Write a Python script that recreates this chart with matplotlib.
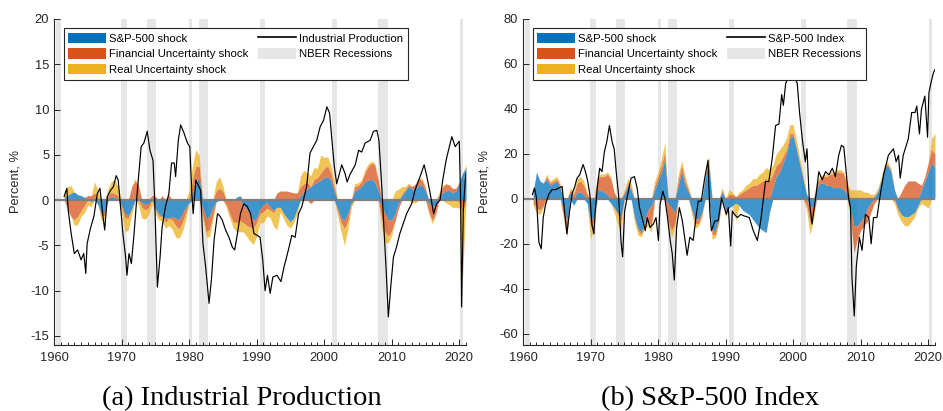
import numpy as np
import matplotlib
matplotlib.use("Agg")
import matplotlib.pyplot as plt
from matplotlib.patches import Patch
from matplotlib.lines import Line2D

plt.rcParams['font.family'] = ['Liberation Sans', 'DejaVu Sans']
plt.rcParams['axes.unicode_minus'] = False

# half-year grid of the shock contributions, 1961.5 .. 2021.0
t = np.arange(1961.5, 2021.01, 0.5)

# (a) Industrial Production: contributions (percent)
a_sp = [0.3, 0.5, 0.8, 0.9, 0.6, 0.5, 0.3, 0.2,
        -0.2, 0.3, -0.5, -1.5, -1.2, 0.2, 0.4, 0.3, 0.2, -0.5,
        -1.5, -1.7, -1.0, 0.3, 0.2, -0.3, -0.5, -0.3, 0.2, -1.0,
        -1.5, -1.8, -2.0, -2.0, -1.8, -2.0, -2.2, -1.5, -0.8, -0.3,
        0.8, 2.0, 2.4, -0.8, -2.0, -1.8, -0.8, -0.2, 0.0, 0.0,
        0.0, 0.0, -0.1, 0.3, 0.5, -0.5, -1.0, -1.5, -2.3, -2.0,
        -1.0, -0.5, -0.3, -0.8, -1.1, -0.8, -0.8, -1.5, -2.0, -2.4,
        -2.0, -1.0, 0.5, 1.0, 1.2, 1.5, 1.8, 2.0, 2.2, 2.5,
        2.6, 2.2, 0.8, -1.0, -2.0, -2.2, -1.5, -0.3, 1.0, 1.2,
        1.5, 2.0, 2.2, 2.3, 2.0, 1.0, -0.5, -1.5, -2.2, -2.2,
        -1.5, -0.3, 0.5, 1.0, 1.5, 1.2, 1.3, 1.6, 1.7, 1.0,
        -0.3, -0.8, -0.5, 0.3, 0.8, 1.0, 1.1, 0.8, 1.0, 2.0,
        3.0, 3.5]
a_fu = [0.2, -1.0, -1.8, -2.2, -1.8, -1.2, -0.6, 0.3,
        0.5, 0.5, 0.3, -0.3, -0.5, 0.3, 0.5, 0.4, 0.3, -0.3,
        -0.5, -0.3, 1.5, 1.8, 1.5, -0.5, -0.6, -0.5, 0.3, 0.4,
        -0.3, 0.5, -0.5, 0.6, -0.4, -0.8, -1.0, -1.0, -0.6, 0.3,
        1.5, 1.8, 1.3, -0.8, -1.5, -1.5, -1.0, 1.0, 1.3, 1.0,
        -0.5, -1.5, -2.3, -2.5, -2.3, -2.0, -1.8, -1.5, -0.8, -0.5,
        -0.5, -0.8, -0.6, -0.3, -0.3, 0.8, 1.0, 1.0, 1.0, 0.9,
        0.8, 0.8, 1.0, 0.8, 0.8, -0.4, 0.5, 0.5, 0.8, 1.0,
        1.2, 0.8, 0.5, -0.3, -0.5, -1.0, -0.8, -0.2, 0.5, 0.4,
        0.5, 1.0, 1.5, 1.8, 1.9, 1.2, -1.5, -2.0, -1.8, -1.2,
        -0.8, -0.6, 0.2, 0.2, 0.2, 0.3, 0.5, 0.7, 0.5, 0.3,
        -1.0, -1.5, -1.0, 0.3, 0.6, 0.8, 0.6, 0.5, 0.3, -0.3,
        -1.5, 0.2]
a_ru = [0.5, 1.0, 0.8, -0.6, -0.9, -0.6, -0.8, -0.6,
        -0.5, 1.2, 0.8, -0.5, -0.4, 0.8, 1.2, 1.5, 1.0, -0.6,
        -1.5, -1.3, -0.6, 0.3, -0.5, -1.2, -1.0, -0.8, -0.4, -0.5,
        -0.4, -0.5, -0.6, -0.8, -1.0, -1.3, -1.0, -1.0, -0.8, 0.8,
        1.5, 1.8, 1.2, -0.4, -0.5, -0.8, -0.5, 1.0, 1.3, 0.6,
        -0.3, -0.5, -0.6, -1.0, -1.2, -1.0, -1.2, -1.5, -1.8, -1.5,
        -1.0, -1.2, -0.9, -0.8, -1.5, -2.5, -0.5, -0.6, -0.8, -0.7,
        -0.5, -0.5, 1.2, 1.5, 1.0, 1.2, 1.3, 1.0, 2.0, 1.2,
        1.0, 0.8, 0.6, -0.5, -1.0, -1.8, -1.0, -0.3, 0.3, 0.3,
        0.2, 0.3, 0.3, 0.2, 0.2, 0.1, -1.0, -1.2, -0.7, -0.5,
        1.0, 1.2, 0.8, 0.3, 0.2, -0.3, -0.3, 0.2, 0.2, 0.2,
        -0.3, -0.3, -0.2, 0.2, 0.2, -0.3, -0.5, -0.8, -0.8, -0.6,
        -7.0, 0.2]

ip_year = [1961.5, 1961.9, 1962.1, 1962.5, 1963.0, 1963.5, 1964.0, 1964.4, 1964.7, 1964.9,
           1965.4, 1965.9, 1966.4, 1966.8, 1967.2, 1967.5, 1967.9, 1968.4, 1968.8, 1969.2,
           1969.5, 1969.9, 1970.2, 1970.6, 1970.8, 1971.1, 1971.45, 1971.85, 1972.3, 1972.9,
           1973.3, 1973.8, 1974.2, 1974.65, 1974.9, 1975.3, 1975.7, 1976.0, 1976.5, 1977.0,
           1977.4, 1977.8, 1978.0, 1978.4, 1978.75, 1979.25, 1979.75, 1980.1, 1980.4, 1980.6,
           1981.0, 1981.3, 1981.7, 1982.05, 1982.45, 1982.95, 1983.3, 1983.7, 1984.2, 1984.5,
           1984.9, 1985.4, 1985.9, 1986.4, 1986.75, 1987.15, 1987.6, 1988.1, 1988.6, 1989.1,
           1989.6, 1990.1, 1990.5, 1990.9, 1991.25, 1991.6, 1992.0, 1992.4, 1993.0, 1993.6,
           1994.05, 1994.7, 1995.2, 1995.7, 1996.2, 1996.7, 1997.4, 1997.9, 1998.4, 1998.9,
           1999.4, 1999.9, 2000.4, 2000.8, 2001.1, 2001.5, 2001.85, 2002.25, 2002.6, 2003.1,
           2003.4, 2003.8, 2004.6, 2005.1, 2005.55, 2006.05, 2006.8, 2007.3, 2007.8, 2008.1,
           2008.5, 2008.75, 2009.15, 2009.5, 2009.85, 2010.25, 2010.7, 2011.2, 2011.7, 2012.2,
           2012.95, 2013.45, 2014.2, 2014.8, 2015.2, 2015.7, 2016.2, 2016.65, 2017.15, 2017.55,
           2018.05, 2018.4, 2018.9, 2019.4, 2020.0, 2020.2, 2020.35, 2020.6, 2020.85, 2021.0]
ip_val = [0.4, 1.3, -1.1, -3.5, -5.9, -5.5, -6.6, -5.9, -8.1, -4.8,
          -3.1, -1.8, 0.7, 1.3, -1.5, -3.3, 0.4, 1.1, 1.5, 2.7,
          2.2, -1.1, -3.7, -6.3, -8.3, -5.9, -7.0, -3.7, 0.7, 5.9,
          6.3, 7.6, 5.5, 4.4, 0.0, -9.6, -6.3, -3.0, -0.7, 0.7,
          4.1, 4.1, 2.6, 6.6, 8.3, 7.4, 6.3, 5.9, 0.7, -1.5,
          2.2, 1.7, 1.1, -4.8, -7.4, -11.4, -8.8, -4.4, -1.5, -1.7,
          -2.2, -3.3, -4.1, -5.2, -5.5, -3.7, -1.5, -0.4, -0.7, -1.5,
          -3.7, -3.9, -4.1, -6.6, -10.0, -8.3, -10.3, -8.5, -8.3, -9.0,
          -7.4, -5.5, -3.9, -4.1, -1.5, -0.7, 1.5, 5.2, 5.9, 6.6,
          8.1, 8.8, 10.3, 9.6, 7.0, 3.7, 1.8, 2.9, 3.9, 2.9,
          2.0, 2.8, 3.9, 5.5, 5.3, 6.3, 6.6, 7.6, 7.7, 6.6,
          1.8, -1.8, -7.4, -12.9, -9.6, -6.3, -5.2, -3.7, -2.6, -1.5,
          -0.4, 1.1, 2.6, 3.9, 2.6, 0.7, -1.5, -0.4, 0.0, 2.2,
          4.4, 5.5, 7.0, 5.9, 6.5, 0.0, -11.8, -1.1, 1.8, 3.0]

# (b) S&P-500 Index: contributions (percent)
b_sp = [3, 12, 8, 7, 9, 6, 7, 8,
        5, -4, -10, 3, -3, 3, 3, 2, -2, -10,
        -8, 4, 4, 3, 2, -2, -4, -6, -8, 2,
        6, 4, -8, -13, -15, -10, -5, -3, 4, 8,
        12, 18, -2, -4, -6, 6, 12, 6, 3, -5,
        -9, -9, -6, 10, 16, -14, -14, -8, 3, -5,
        -4, -3, -2, -3, -5, -6, -7, -9, -11, -13,
        -14, -15, -6, 5, 10, 12, 16, 20, 27, 28,
        22, 15, 8, 2, -4, -3, 5, 7, 7, 6,
        6, 5, 5, 5, 4, 2, -4, -12, -12, -10,
        -8, -4, -2, 1, 3, 8, 14, 15, 12, 4,
        -4, -7, -8, -8, -7, -6, -3, 4, 8, 12,
        16, 14]
b_fu = [-2, -4, -5, -3, 1, 1, 1, 1,
        1, -4, -6, 1, 2, 4, 5, 4, 2, -3,
        -2, 5, 6, 7, 9, 9, 3, -1, -2, 1,
        1, 1, -1, -1, -1, -2, -5, -9, 2, 2,
        3, 3, -8, -10, -5, 3, 3, 2, 1, -1,
        -2, -2, -1, 1, 1, -2, -2, -2, 1, -2,
        2, 2, 1, 2, 3, 4, 5, 6, 6, 7,
        8, 9, 8, 6, 5, 4, 3, 2, 2, 1,
        1, 1, 1, -3, -7, -4, 2, 2, 3, 4,
        5, 6, 7, 7, 7, 4, -4, -12, -6, -4,
        -4, -6, -4, -2, 0.5, 0.5, 0.5, 0.5, 0.5, -1,
        -1, 3, 6, 8, 8, 8, 7, 2, 2, 4,
        6, 6]
b_ru = [-1, -2, -2, -1, 1, 1, 1, 1,
        1, -1, -1, 1, 1, 2, 2, 2, 1, -5,
        -3, 1, 1, 1, 1, 1, -2, -4, -4, 1,
        2, 2, -1, -2, -1, -1, -2, -3, 2, 2,
        3, 4, -2, -3, -2, 2, 2, 2, 1, -1,
        -2, -1, -1, 1, 2, -2, -1, -1, 1, -1,
        2, 1, -8, 1, 1, 2, 2, 3, 3, 4,
        4, 5, 5, 4, 5, 6, 5, 5, 4, 4,
        3, 2, 1, -2, -5, -2, 1, 1, 1, 1,
        1, 1, 1, 1, 1, 1, 4, 4, 4, 4,
        3, 3, 2, 1, 1, 1, 1, 1, 1, -1,
        -2, -3, -4, -4, -3, -2, -1, -2, -3, -4,
        5, 9]

sp_year = [1961.4, 1961.7, 1962.0, 1962.35, 1962.7, 1963.0, 1963.35, 1963.8, 1964.3, 1964.8,
           1965.3, 1965.8, 1966.05, 1966.5, 1966.9, 1967.3, 1967.6, 1968.0, 1968.4, 1968.9,
           1969.25, 1969.6, 1969.9, 1970.2, 1970.5, 1970.7, 1971.05, 1971.35, 1971.7, 1972.05,
           1972.4, 1972.8, 1973.2, 1973.5, 1973.8, 1974.15, 1974.5, 1974.75, 1975.05, 1975.5,
           1976.0, 1976.5, 1976.9, 1977.25, 1977.75, 1978.1, 1978.4, 1978.8, 1979.3, 1979.7,
           1980.05, 1980.3, 1980.7, 1981.0, 1981.4, 1981.8, 1982.1, 1982.4, 1982.75, 1983.15,
           1983.6, 1984.0, 1984.3, 1984.7, 1985.2, 1985.6, 1985.95, 1986.4, 1986.9, 1987.4,
           1987.65, 1987.9, 1988.4, 1988.9, 1989.4, 1989.9, 1990.1, 1990.4, 1990.75, 1991.0,
           1991.3, 1991.75, 1992.25, 1992.75, 1993.5, 1994.1, 1994.7, 1995.2, 1995.9, 1996.4,
           1996.9, 1997.4, 1997.9, 1998.3, 1998.55, 1998.9, 1999.3, 1999.6, 2000.1, 2000.6,
           2000.95, 2001.4, 2001.8, 2002.05, 2002.4, 2002.8, 2003.05, 2003.4, 2003.8, 2004.3,
           2004.8, 2005.3, 2005.8, 2006.25, 2006.75, 2007.15, 2007.5, 2007.85, 2008.2, 2008.5,
           2008.7, 2009.05, 2009.35, 2009.8, 2010.2, 2010.7, 2011.2, 2011.55, 2011.9, 2012.4,
           2012.9, 2013.4, 2014.1, 2014.85, 2015.25, 2015.6, 2015.85, 2016.3, 2017.05, 2017.55,
           2018.05, 2018.3, 2018.7, 2019.0, 2019.5, 2019.9, 2020.1, 2020.4, 2020.75, 2021.0]
sp_val = [1.9, 4.8, 0.4, -19.3, -22.2, -8.3, -2.5, 1.9, 4.1, 4.1,
          4.8, 5.5, -2.5, -15.6, -5.4, 2.6, 4.8, 9.2, 10.7, 15.3,
          12.1, 7.7, 1.9, -11.2, -15.6, -5.4, 6.3, 13.6, 12.1, 20.9,
          25.3, 32.6, 25.3, 22.3, 12.1, 1.9, -18.5, -25.8, -5.4, 1.9,
          9.2, 9.9, 4.8, -3.9, -9.8, -14.2, -8.3, -12.7, -11.2, -8.3,
          -18.5, -2.5, 3.4, 0.4, -8.3, -18.5, -24.4, -36.1, -12.7, -3.9,
          -9.8, -18.5, -25.1, -17.1, -18.5, -8.3, -1.0, -1.0, 9.2, 17.2,
          -5.4, -14.2, -9.8, -9.8, 0.4, -4.7, -6.9, -3.9, -21.0, -5.4,
          -6.9, -8.3, -6.9, -7.6, -8.3, -14.2, -18.5, -9.8, 7.7, 7.7,
          18.0, 32.6, 33.3, 46.4, 41.6, 51.5, 53.7, 53.0, 54.5, 51.5,
          38.4, 25.3, 16.5, 22.3, -1.0, -11.2, -5.4, 1.9, 12.1, 8.5,
          12.1, 10.7, 13.6, 9.9, 19.4, 23.8, 23.1, 12.1, 0.4, -3.9,
          -34.6, -52.1, -30.2, -17.1, -22.9, -6.9, -8.3, -20.0, -8.3, -8.3,
          1.9, 10.7, 19.4, 22.3, 16.5, 19.4, 9.2, 19.4, 26.7, 38.4,
          38.4, 41.3, 28.9, 39.9, 45.7, 27.4, 47.2, 51.5, 55.9, 57.5]

# NBER recessions (start, end)
rec_start = [1960.25, 1969.92, 1973.83, 1980.0, 1981.5, 1990.5, 2001.17, 2007.92, 2020.08]
rec_end = [1961.08, 1970.83, 1975.17, 1980.5, 1982.83, 1991.17, 2001.83, 2009.5, 2020.5]

colors = ['#0072BD', '#D95319', '#EDB120']
rec_color = '#e6e6e6'
axis_color = '#262626'


def panel(ax, series, yr, yv, line_label, ylim, yticks):
    for s, e in zip(rec_start, rec_end):
        ax.axvspan(s, e, color=rec_color, lw=0, zorder=0)
    # stacked contributions: positives upward, negatives downward
    pos = np.zeros(len(t))
    neg = np.zeros(len(t))
    for vals, c in zip(series, colors):
        v = np.asarray(vals, float)
        p = np.clip(v, 0, None)
        n = np.clip(v, None, 0)
        ax.fill_between(t, pos, pos + p, color=c, alpha=0.75, lw=0, zorder=1)
        ax.fill_between(t, neg, neg + n, color=c, alpha=0.75, lw=0, zorder=1)
        pos += p
        neg += n
    ax.axhline(0, color='#7f7f7f', lw=1.6, zorder=2)
    ax.plot(yr, yv, color='black', lw=0.85, zorder=3)

    ax.set_xlim(1960, 2021)
    ax.set_ylim(*ylim)
    ax.set_xticks(range(1960, 2021, 10))
    ax.set_xticks(range(1960, 2022), minor=True)
    ax.set_yticks(yticks)
    ax.tick_params(direction='in', length=4.5, width=0.7, colors=axis_color,
                   labelsize=9.3, top=False, right=False)
    ax.tick_params(which='minor', direction='in', length=2.5, width=0.7,
                   colors=axis_color, top=False)
    ax.tick_params(axis='x', pad=5)
    for side in ['top', 'right']:
        ax.spines[side].set_visible(False)
    for side in ['left', 'bottom']:
        ax.spines[side].set_color(axis_color)
        ax.spines[side].set_linewidth(0.8)
    ax.set_ylabel('Percent, %', fontsize=9.3, color=axis_color)
    ax.yaxis.set_label_coords(-0.078, 0.5)

    handles = [Patch(facecolor=colors[0]), Patch(facecolor=colors[1]),
               Patch(facecolor=colors[2]), Line2D([], [], color='black', lw=1.2),
               Patch(facecolor=rec_color)]
    labels = ['S&P-500 shock', 'Financial Uncertainty shock', 'Real Uncertainty shock',
              line_label, 'NBER Recessions']
    leg = ax.legend(handles, labels, ncol=2, loc='upper left',
                    bbox_to_anchor=(0.024, 0.972), fontsize=8.2, frameon=True,
                    fancybox=False, edgecolor=axis_color, framealpha=1,
                    handlelength=3.3, handleheight=1.0, labelspacing=0.42,
                    columnspacing=0.8, handletextpad=0.3, borderpad=0.4,
                    borderaxespad=0)
    leg.get_frame().set_linewidth(0.8)
    leg.set_zorder(5)


fig = plt.figure(figsize=(9.43, 4.11), dpi=100)
ax1 = fig.add_axes([0.0573, 0.1606, 0.4369, 0.7932])
ax2 = fig.add_axes([0.5546, 0.1606, 0.4369, 0.7932])

panel(ax1, [a_sp, a_fu, a_ru], ip_year, ip_val, 'Industrial Production',
      (-16, 20), range(-15, 21, 5))
panel(ax2, [b_sp, b_fu, b_ru], sp_year, sp_val, 'S&P-500 Index',
      (-65, 80), range(-60, 81, 20))

fig.text(0.256, 0.03, '(a) Industrial Production', fontsize=20.5,
         family=['Liberation Serif', 'DejaVu Serif'], ha='center', va='center')
fig.text(0.753, 0.03, '(b) S&P-500 Index', fontsize=20.5,
         family=['Liberation Serif', 'DejaVu Serif'], ha='center', va='center')

fig.savefig('out.png', dpi=100)
